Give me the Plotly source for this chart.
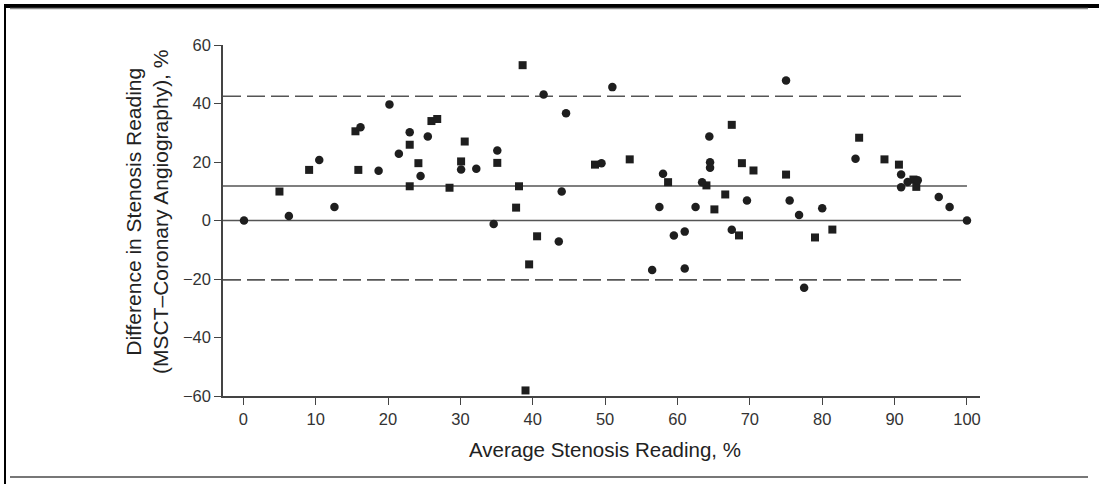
import plotly.graph_objects as go

# Squares
sq_x = [5.0, 9.1, 15.5, 15.9, 23.0, 23.0, 24.2, 26.0, 26.8, 28.5, 30.1, 30.6, 35.1, 37.7, 38.1,
        38.6, 39.0, 39.5, 40.6, 48.6, 53.4, 58.7, 64.0, 65.1, 66.6, 67.5, 68.5, 68.9, 70.5, 75.0,
        79.0, 81.4, 85.1, 88.6, 90.6, 92.6, 93.0]
sq_y = [9.9, 17.3, 30.5, 17.3, 25.9, 11.7, 19.6, 34.0, 34.7, 11.2, 20.2, 27.0, 19.7, 4.4, 11.7,
        53.1, -58.1, -15.0, -5.4, 19.1, 20.9, 13.1, 12.0, 3.8, 8.9, 32.7, -5.1, 19.6, 17.1, 15.7,
        -5.8, -3.1, 28.3, 20.9, 19.1, 14.0, 11.5]

# Circles
ci_x = [0.1, 6.3, 10.5, 12.6, 16.2, 18.7, 20.2, 21.5, 23.0, 24.5, 25.5, 30.1, 32.2, 34.6, 35.1,
        41.5, 43.6, 44.0, 44.6, 49.5, 51.0, 56.5, 57.5, 58.0, 59.5, 61.0, 61.0, 62.5, 63.4, 64.4,
        64.5, 64.5, 67.5, 69.6, 75.0, 75.5, 76.8, 77.5, 80.0, 84.6, 90.9, 90.9, 91.8, 93.2, 96.1,
        97.6, 100.0]
ci_y = [0.0, 1.5, 20.7, 4.6, 31.9, 17.0, 39.7, 22.8, 30.2, 15.2, 28.7, 17.4, 17.7, -1.2, 23.9,
        43.1, -7.2, 9.9, 36.7, 19.6, 45.6, -16.9, 4.6, 16.0, -5.1, -3.8, -16.4, 4.6, 13.1, 28.7,
        19.9, 18.0, -3.2, 6.8, 47.9, 6.8, 1.9, -23.0, 4.2, 21.1, 15.7, 11.4, 13.2, 13.8, 8.0,
        4.6, 0.0]

mean_diff = 11.8
upper_loa = 42.5
lower_loa = -20.3

x_ticks = [0, 10, 20, 30, 40, 50, 60, 70, 80, 90, 100]
y_ticks = [-60, -40, -20, 0, 20, 40, 60]

FONT = "Liberation Sans, Arial, sans-serif"
MARK = "#1e1e1e"

fig = go.Figure()
fig.add_trace(go.Scatter(x=sq_x, y=sq_y, mode="markers",
                         marker=dict(symbol="square", size=8, color=MARK), showlegend=False))
fig.add_trace(go.Scatter(x=ci_x, y=ci_y, mode="markers",
                         marker=dict(symbol="circle", size=8.5, color=MARK), showlegend=False))

XMIN, XMAX = -2.8, 101.8
line_col = "#555555"
shapes = []
for yv, dash in [(upper_loa, "18px,6px"), (lower_loa, "18px,6px"), (mean_diff, "solid"), (0, "solid")]:
    shapes.append(dict(type="line", xref="x", yref="y", x0=XMIN, x1=100, y0=yv, y1=yv,
                       line=dict(color=line_col, width=1.6, dash=dash), layer="below"))

# Outer frame (paper coords, plot area 223..980 x 45..396 px)
def px(xp):
    return (xp - 223) / 757.0
def py(yp):
    return (396 - yp) / 351.0

shapes.append(dict(type="rect", xref="paper", yref="paper", x0=px(5), x1=px(1099), y0=py(8), y1=py(4),
                   fillcolor="black", line=dict(width=0)))
shapes.append(dict(type="line", xref="paper", yref="paper", x0=px(10), x1=px(1088), y0=py(8.5), y1=py(8.5),
                   line=dict(color="#888888", width=1.5)))
shapes.append(dict(type="line", xref="paper", yref="paper", x0=px(5), x1=px(5), y0=py(4), y1=py(484),
                   line=dict(color="black", width=2)))
shapes.append(dict(type="line", xref="paper", yref="paper", x0=px(10), x1=px(1088), y0=py(477), y1=py(477),
                   line=dict(color="#777777", width=2)))

fig.update_layout(
    width=1099, height=484,
    margin=dict(l=223, r=119, t=45, b=88),
    paper_bgcolor="white", plot_bgcolor="white",
    font=dict(family=FONT, color="#222222"),
    shapes=shapes,
    xaxis=dict(range=[XMIN, XMAX], tickvals=x_ticks, ticktext=[str(v) for v in x_ticks],
               showgrid=False, zeroline=False, showline=True, linecolor="#444444", linewidth=1.5,
               ticks="outside", ticklen=7, tickwidth=1.2, tickcolor="#444444",
               tickfont=dict(size=16.5, color="#333333", family=FONT)),
    yaxis=dict(range=[-60, 60], tickvals=y_ticks, ticktext=[str(v) if v >= 0 else "\u2212" + str(-v) for v in y_ticks],
               showgrid=False, zeroline=False, showline=True, linecolor="#444444", linewidth=1.5,
               ticks="outside", ticklen=7, tickwidth=1.2, tickcolor="#444444",
               tickfont=dict(size=16.5, color="#333333", family=FONT)),
    annotations=[
        dict(text="Difference in Stenosis Reading<br>(MSCT\u2013Coronary Angiography), %",
             xref="paper", yref="paper", x=px(147), y=py(212), textangle=-90,
             xanchor="center", yanchor="middle", showarrow=False,
             font=dict(size=21, color="#222222", family=FONT)),
        dict(text="Average Stenosis Reading, %", xref="paper", yref="paper",
             x=px(604.5), y=py(449), xanchor="center", yanchor="middle", showarrow=False,
             font=dict(size=20.5, color="#222222", family=FONT)),
    ],
)

fig.write_html("out.html", config={"displayModeBar": False},
               post_script="document.body.style.margin='0';document.body.style.padding='0';"
                           "document.documentElement.style.overflow='hidden';")
